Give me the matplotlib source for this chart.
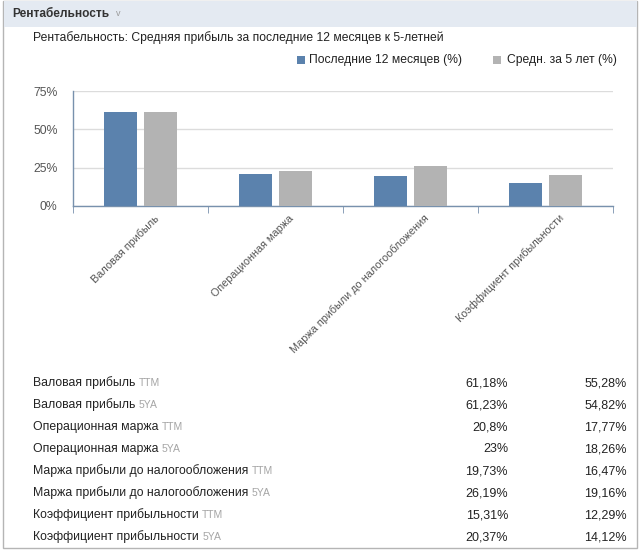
import matplotlib
matplotlib.use("Agg")
import matplotlib.pyplot as plt
from matplotlib.patches import Rectangle
from matplotlib.transforms import ScaledTranslation

plt.rcParams['font.family'] = ['Liberation Sans', 'DejaVu Sans']

# данные
categories = ["Валовая прибыль", "Операционная маржа",
              "Маржа прибыли до налогообложения", "Коэффициент прибыльности"]
ttm = [61.18, 20.8, 19.73, 15.31]
avg5 = [61.23, 23, 26.19, 20.37]
yticks = [0, 25, 50, 75]

row_names = ["Валовая прибыль", "Валовая прибыль", "Операционная маржа", "Операционная маржа",
             "Маржа прибыли до налогообложения", "Маржа прибыли до налогообложения",
             "Коэффициент прибыльности", "Коэффициент прибыльности"]
row_tags = ["TTM", "5YA"] * 4
col_company = ["61,18%", "61,23%", "20,8%", "23%", "19,73%", "26,19%", "15,31%", "20,37%"]
col_industry = ["55,28%", "54,82%", "17,77%", "18,26%", "16,47%", "19,16%", "12,29%", "14,12%"]

BLUE = "#5b82ad"
GREY = "#b3b3b3"
W, H = 640, 550

fig = plt.figure(figsize=(6.4, 5.5), dpi=100)

def fx(x):
    return x / W

def fy(y):
    return 1 - y / H

# рамка и шапка
fig.patches.append(Rectangle((fx(3), fy(548)), fx(634), 547 / H, transform=fig.transFigure,
                             facecolor="white", edgecolor="#b5b5b5", lw=1, zorder=-2))
fig.patches.append(Rectangle((fx(3.5), fy(27)), fx(633), 25.5 / H, transform=fig.transFigure,
                             facecolor="#e4eaf2", edgecolor="none", zorder=-1))
fig.text(fx(12), fy(14), "Рентабельность", fontsize=8.6, fontweight="bold", color="#333333",
         va="center", ha="left")
fig.text(fx(116), fy(14), "v", fontsize=6.5, color="#9a9a9a", va="center", ha="left")

fig.text(fx(33), fy(38), "Рентабельность: Средняя прибыль за последние 12 месяцев к 5-летней",
         fontsize=8.7, color="#222222", va="center", ha="left")

# легенда
fig.patches.append(Rectangle((fx(297), fy(64)), fx(8), 8 / H, transform=fig.transFigure,
                             facecolor=BLUE, edgecolor="none"))
fig.text(fx(309), fy(60), "Последние 12 месяцев (%)", fontsize=8.7, color="#222222",
         va="center", ha="left")
fig.patches.append(Rectangle((fx(493), fy(64)), fx(8), 8 / H, transform=fig.transFigure,
                             facecolor=GREY, edgecolor="none"))
fig.text(fx(507), fy(60), "Средн. за 5 лет (%)", fontsize=8.7, color="#222222",
         va="center", ha="left")

# график
ax = fig.add_axes([fx(73), fy(206), fx(540), 115 / H])
ax.set_zorder(2)
x = range(len(categories))
bw = 0.245
ax.bar([i - 0.148 for i in x], ttm, width=bw, color=BLUE, zorder=3)
ax.bar([i + 0.148 for i in x], avg5, width=bw, color=GREY, zorder=3)

ax.set_xlim(-0.5, len(categories) - 0.5)
ax.set_ylim(0, 75)
ax.set_yticks(yticks)
ax.set_yticklabels([f"{v}%" for v in yticks], fontsize=8.8, color="#555555")
ax.yaxis.grid(True, color="#dcdcdc", lw=1, zorder=0)
for s in ["top", "right"]:
    ax.spines[s].set_visible(False)
for s in ["left", "bottom"]:
    ax.spines[s].set_color("#7891ad")
    ax.spines[s].set_linewidth(1)
ax.tick_params(axis="y", length=0, pad=11)

ax.set_xticks([i - 0.5 for i in range(len(categories) + 1)], minor=True)
ax.tick_params(axis="x", which="minor", length=5, color="#7891ad", direction="out")
ax.set_xticks(list(x))
ax.set_xticklabels(categories, rotation=45, ha="right", va="top", rotation_mode="anchor",
                   fontsize=7.8, color="#555555")
ax.tick_params(axis="x", which="major", length=0, pad=5)
offset = ScaledTranslation(13 / 100, 0, fig.dpi_scale_trans)
for lab in ax.get_xticklabels():
    lab.set_transform(lab.get_transform() + offset)

# таблица
renderer = fig.canvas.get_renderer()
for i in range(len(row_names)):
    y = fy(383 + 22 * i)
    t = fig.text(fx(33), y, row_names[i] + " ", fontsize=8.8, color="#222222", va="center", ha="left")
    bb = t.get_window_extent(renderer=renderer)
    fig.text(bb.x1 / fig.bbox.width, y, row_tags[i], fontsize=7.5, color="#a5a5a5",
             va="center", ha="left")
    fig.text(fx(508), y, col_company[i], fontsize=9, color="#222222", va="center", ha="right")
    fig.text(fx(627), y, col_industry[i], fontsize=9, color="#222222", va="center", ha="right")

fig.savefig("out.png", dpi=100)
